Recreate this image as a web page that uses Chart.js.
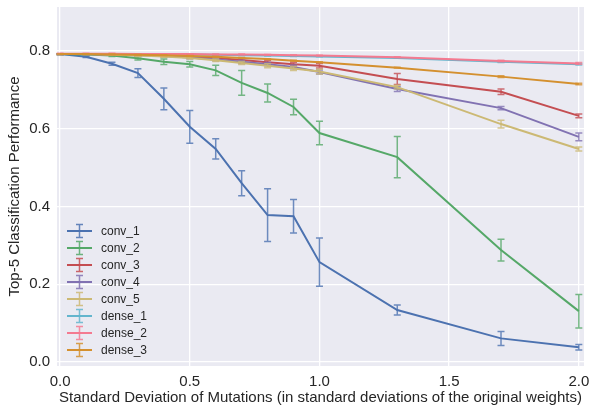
<!DOCTYPE html>
<html>
<head>
<meta charset="utf-8">
<script src="https://cdn.jsdelivr.net/npm/chart.js@4.4.1/dist/chart.umd.min.js"></script>
<style>
  html, body { margin: 0; padding: 0; background: #fff; }
  canvas { display: block; }
</style>
</head>
<body>
<canvas id="mutationChart" width="590" height="411"></canvas>
<script>
// mutation strength (x) shared by every layer
var sigmas = [0, 0.1, 0.2, 0.3, 0.4, 0.5, 0.6, 0.7, 0.8, 0.9, 1.0, 1.3, 1.7, 2.0];

var layerNames = ['conv_1', 'conv_2', 'conv_3', 'conv_4', 'conv_5', 'dense_1', 'dense_2', 'dense_3'];

var conv1 = [0.792, 0.785, 0.767, 0.743, 0.677, 0.605, 0.548, 0.460, 0.378, 0.375, 0.257, 0.134, 0.061, 0.038];
var conv2 = [0.792, 0.791, 0.788, 0.781, 0.772, 0.766, 0.750, 0.718, 0.692, 0.656, 0.589, 0.527, 0.288, 0.131];
var conv3 = [0.792, 0.792, 0.791, 0.790, 0.788, 0.786, 0.782, 0.777, 0.771, 0.766, 0.762, 0.728, 0.695, 0.633];
var conv4 = [0.792, 0.792, 0.791, 0.789, 0.787, 0.783, 0.778, 0.772, 0.766, 0.759, 0.746, 0.702, 0.653, 0.579];
var conv5 = [0.792, 0.792, 0.790, 0.788, 0.786, 0.782, 0.776, 0.769, 0.762, 0.755, 0.747, 0.707, 0.612, 0.548];
var dense1 = [0.792, 0.792, 0.792, 0.792, 0.791, 0.791, 0.790, 0.789, 0.788, 0.787, 0.786, 0.782, 0.772, 0.766];
var dense2 = [0.793, 0.793, 0.793, 0.792, 0.792, 0.792, 0.791, 0.791, 0.790, 0.789, 0.788, 0.784, 0.774, 0.768];
var dense3 = [0.792, 0.792, 0.791, 0.790, 0.789, 0.787, 0.785, 0.782, 0.779, 0.775, 0.771, 0.757, 0.734, 0.715];

// half-height of each error bar
var conv1Err = [0.001, 0.002, 0.004, 0.011, 0.028, 0.042, 0.026, 0.032, 0.068, 0.043, 0.062, 0.013, 0.018, 0.007];
var conv2Err = [0.001, 0.001, 0.002, 0.004, 0.007, 0.007, 0.013, 0.032, 0.023, 0.020, 0.030, 0.053, 0.028, 0.043];
var conv3Err = [0.001, 0.001, 0.001, 0.002, 0.002, 0.003, 0.003, 0.004, 0.005, 0.005, 0.006, 0.014, 0.007, 0.005];
var conv4Err = [0.001, 0.001, 0.001, 0.002, 0.002, 0.003, 0.003, 0.004, 0.004, 0.005, 0.005, 0.006, 0.004, 0.010];
var conv5Err = [0.001, 0.001, 0.001, 0.002, 0.002, 0.003, 0.003, 0.004, 0.005, 0.005, 0.006, 0.005, 0.010, 0.005];
var dense1Err = [0.001, 0.001, 0.001, 0.001, 0.001, 0.001, 0.001, 0.001, 0.001, 0.001, 0.001, 0.001, 0.002, 0.002];
var dense2Err = [0.001, 0.001, 0.001, 0.001, 0.001, 0.001, 0.001, 0.001, 0.001, 0.001, 0.001, 0.001, 0.002, 0.002];
var dense3Err = [0.001, 0.001, 0.001, 0.001, 0.001, 0.001, 0.001, 0.001, 0.001, 0.001, 0.001, 0.001, 0.002, 0.002];

var xTicks = [0, 0.5, 1.0, 1.5, 2.0];
var yTicks = [0, 0.2, 0.4, 0.6, 0.8];

var seriesValues = [conv1, conv2, conv3, conv4, conv5, dense1, dense2, dense3];
var seriesErrors = [conv1Err, conv2Err, conv3Err, conv4Err, conv5Err, dense1Err, dense2Err, dense3Err];
var colors = ['#4C72B0', '#55A868', '#C44E52', '#8172B2', '#CCB974', '#64B5CD', '#F47A90', '#D4902F'];

var datasets = layerNames.map(function (name, i) {
    return {
        label: name,
        data: sigmas.map(function (s, j) { return { x: s, y: seriesValues[i][j] }; }),
        errors: seriesErrors[i],
        borderColor: colors[i],
        backgroundColor: colors[i],
        borderWidth: 2,
        pointRadius: 0,
        tension: 0,
        fill: false,
        order: layerNames.length - i   // later series drawn on top, like matplotlib
    };
});

var plotBackground = {
    id: 'plotBackground',
    beforeDraw: function (chart) {
        var a = chart.chartArea;
        var ctx = chart.ctx;
        ctx.save();
        ctx.fillStyle = '#EAEAF2';
        ctx.fillRect(a.left, a.top, a.right - a.left, a.bottom - a.top);
        ctx.restore();
    }
};

var errorBars = {
    id: 'errorBars',
    afterDatasetDraw: function (chart, args) {
        var ds = chart.data.datasets[args.index];
        var xs = chart.scales.x, ys = chart.scales.y;
        var ctx = chart.ctx;
        ctx.save();
        ctx.strokeStyle = ds.borderColor;
        ctx.globalAlpha = 0.8;
        ctx.lineWidth = 1.5;
        ds.data.forEach(function (p, j) {
            var e = ds.errors[j];
            var px = xs.getPixelForValue(p.x);
            var top = ys.getPixelForValue(p.y + e);
            var bot = ys.getPixelForValue(p.y - e);
            ctx.beginPath();
            ctx.moveTo(px, top); ctx.lineTo(px, bot);
            ctx.moveTo(px - 3.5, top); ctx.lineTo(px + 3.5, top);
            ctx.moveTo(px - 3.5, bot); ctx.lineTo(px + 3.5, bot);
            ctx.stroke();
        });
        ctx.restore();
    }
};

// legend in the lower left of the plot, with errorbar glyphs
var errorLegend = {
    id: 'errorLegend',
    afterDraw: function (chart) {
        var a = chart.chartArea;
        var ctx = chart.ctx;
        var rowH = 17;
        var y0 = a.bottom - 16 - rowH * (layerNames.length - 1);
        ctx.save();
        ctx.font = '12px "Liberation Sans", Arial, sans-serif';
        ctx.textBaseline = 'middle';
        layerNames.forEach(function (name, i) {
            var y = y0 + i * rowH;
            var x1 = a.left + 10, x2 = a.left + 35, xm = (x1 + x2) / 2;
            ctx.strokeStyle = colors[i];
            ctx.lineWidth = 2;
            ctx.beginPath();
            ctx.moveTo(x1, y); ctx.lineTo(x2, y);
            ctx.stroke();
            ctx.lineWidth = 1.5;
            ctx.globalAlpha = 0.85;
            ctx.beginPath();
            ctx.moveTo(xm, y - 6.5); ctx.lineTo(xm, y + 6.5);
            ctx.moveTo(xm - 3.5, y - 6.5); ctx.lineTo(xm + 3.5, y - 6.5);
            ctx.moveTo(xm - 3.5, y + 6.5); ctx.lineTo(xm + 3.5, y + 6.5);
            ctx.stroke();
            ctx.globalAlpha = 1;
            ctx.fillStyle = '#262626';
            ctx.fillText(name, a.left + 44, y + 1);
        });
        ctx.restore();
    }
};

var fontFamily = '"Liberation Sans", Arial, sans-serif';

var ctx = document.getElementById('mutationChart').getContext('2d');
var chart = new Chart(ctx, {
    type: 'line',
    data: { datasets: datasets },
    options: {
        responsive: false,
        animation: false,
        layout: { padding: { top: 7, right: 6, left: 0, bottom: 0 } },
        plugins: {
            legend: { display: false },
            tooltip: { enabled: false }
        },
        scales: {
            x: {
                type: 'linear',
                min: -0.012,
                max: 2.02,
                afterBuildTicks: function (scale) {
                    scale.ticks = xTicks.map(function (v) { return { value: v }; });
                },
                afterFit: function (scale) {
                    scale.height = 45;
                    scale.paddingLeft = 0;
                    scale.paddingRight = 0;
                },
                grid: { color: '#ffffff', lineWidth: 1.3, drawTicks: false },
                border: { display: false },
                ticks: {
                    padding: 7,
                    color: '#262626',
                    font: { family: fontFamily, size: 15 },
                    maxRotation: 0,
                    callback: function (v) { return v.toFixed(1); }
                },
                title: {
                    display: true,
                    text: 'Standard Deviation of Mutations (in standard deviations of the original weights)',
                    color: '#262626',
                    font: { family: fontFamily, size: 15 },
                    padding: { top: 0, bottom: 4 }
                }
            },
            y: {
                min: -0.01,
                max: 0.913,
                afterBuildTicks: function (scale) {
                    scale.ticks = yTicks.map(function (v) { return { value: v }; });
                },
                afterFit: function (scale) {
                    scale.width = 57;
                    scale.paddingTop = 0;
                    scale.paddingBottom = 0;
                },
                grid: { color: '#ffffff', lineWidth: 1.3, drawTicks: false },
                border: { display: false },
                ticks: {
                    padding: 7,
                    color: '#262626',
                    font: { family: fontFamily, size: 15 },
                    callback: function (v) { return v.toFixed(1); }
                },
                title: {
                    display: true,
                    text: 'Top-5 Classification Performance',
                    color: '#262626',
                    font: { family: fontFamily, size: 15 },
                    padding: { top: 6, bottom: 0 }
                }
            }
        }
    },
    plugins: [plotBackground, errorBars, errorLegend]
});
</script>
</body>
</html>
